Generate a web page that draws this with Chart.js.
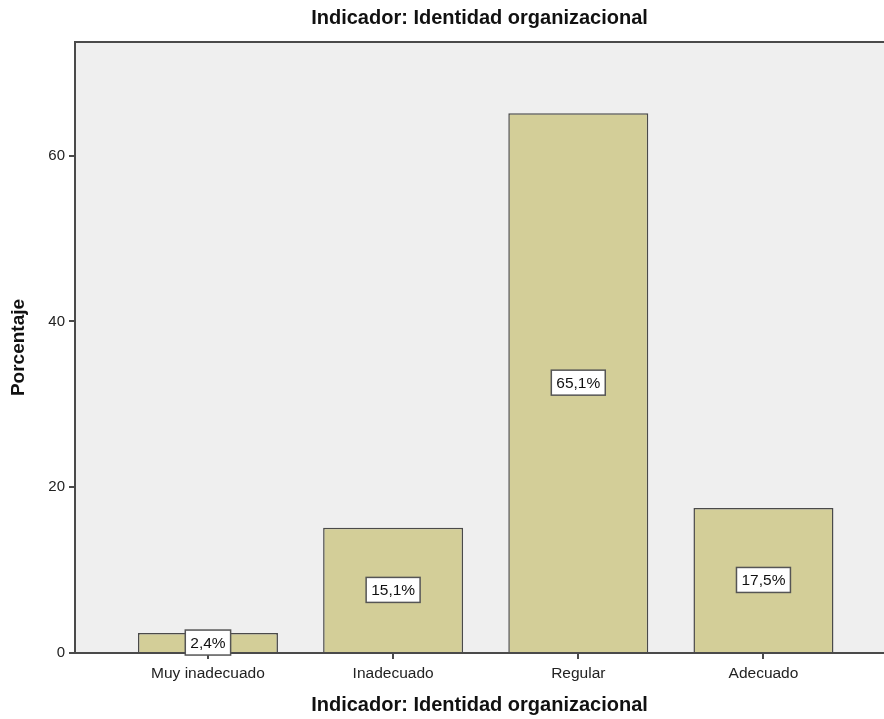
<!DOCTYPE html>
<html><head><meta charset="utf-8">
<script src="https://cdn.jsdelivr.net/npm/chart.js@4/dist/chart.umd.min.js"></script>
<style>html,body{margin:0;padding:0;background:#fff}#wrap{width:884px;height:719px}</style>
</head><body><div id="wrap"><canvas id="c" width="884" height="719"></canvas></div>
<script>
const categories = ['Muy inadecuado', 'Inadecuado', 'Regular', 'Adecuado'];
const percentages = [2.4, 15.1, 65.1, 17.5];
const valueLabels = ['2,4%', '15,1%', '65,1%', '17,5%'];
const yTickValues = [0, 20, 40, 60];
const chartTitle = 'Indicador: Identidad organizacional';
const xAxisTitle = 'Indicador: Identidad organizacional';
const yAxisTitle = 'Porcentaje';

const FONT = "'Liberation Sans', Arial, sans-serif";
const AXIS = '#4a4a4a';

const frame = {
  id: 'frame',
  beforeDraw(chart) {
    const {ctx, chartArea: a} = chart;
    ctx.save();
    ctx.fillStyle = '#efefef';
    ctx.fillRect(a.left, a.top, a.right - a.left, a.bottom - a.top);
    ctx.restore();
  },
  afterDatasetsDraw(chart) {
    const {ctx, chartArea: a} = chart;
    ctx.save();
    ctx.strokeStyle = AXIS;
    ctx.lineWidth = 2;
    ctx.beginPath();
    ctx.moveTo(a.left, a.top);
    ctx.lineTo(a.right, a.top);
    ctx.stroke();
    const meta = chart.getDatasetMeta(0);
    ctx.font = "15.5px " + FONT;
    ctx.textAlign = 'center';
    ctx.textBaseline = 'middle';
    meta.data.forEach((bar, i) => {
      const cx = bar.x, cy = (bar.y + bar.base) / 2;
      const txt = valueLabels[i];
      const w = ctx.measureText(txt).width + 10, h = 25;
      ctx.fillStyle = '#ffffff';
      ctx.fillRect(cx - w / 2, cy - h / 2, w, h);
      ctx.lineWidth = 1.5;
      ctx.strokeStyle = '#555';
      ctx.strokeRect(cx - w / 2, cy - h / 2, w, h);
      ctx.fillStyle = '#111';
      ctx.fillText(txt, cx, cy + 1);
    });
    ctx.restore();
  }
};

new Chart(document.getElementById('c'), {
  type: 'bar',
  data: {
    datasets: [{
      data: percentages.map((v, i) => ({x: i, y: v})),
      backgroundColor: '#d3ce98',
      borderColor: '#4a4a4a',
      borderWidth: 1.5,
      barPercentage: 0.756,
      categoryPercentage: 1
    }]
  },
  options: {
    responsive: false,
    animation: false,
    layout: {padding: {left: 0, right: 0, top: 0, bottom: 0}},
    plugins: {
      legend: {display: false},
      tooltip: {enabled: false},
      title: {
        display: true, text: chartTitle, fullSize: false,
        color: '#111', font: {family: FONT, size: 20, weight: 'bold'},
        padding: {top: 6, bottom: 12}
      }
    },
    scales: {
      x: {
        type: 'linear', min: -0.718, max: 3.651, offset: false,
        afterBuildTicks: s => { s.ticks = categories.map((c, i) => ({value: i})); },
        afterFit: s => { s.height = 66; },
        ticks: {
          callback: v => categories[v],
          color: '#222', font: {family: FONT, size: 15.5}, padding: 5, maxRotation: 0, autoSkip: false
        },
        grid: {display: true, offset: false, drawOnChartArea: false, drawTicks: true, tickLength: 6, color: AXIS, lineWidth: 2},
        border: {display: true, color: AXIS, width: 2},
        title: {
          display: true, text: xAxisTitle, color: '#111',
          font: {family: FONT, size: 20, weight: 'bold'}, padding: {top: 0, bottom: 2}
        }
      },
      y: {
        min: 0, max: 73.7,
        afterBuildTicks: s => { s.ticks = yTickValues.map(v => ({value: v})); },
        afterFit: s => { s.width = 75; },
        ticks: {color: '#222', font: {family: FONT, size: 15}, padding: 4},
        grid: {display: true, drawOnChartArea: false, drawTicks: true, tickLength: 6, color: AXIS, lineWidth: 2},
        border: {display: true, color: AXIS, width: 2},
        title: {
          display: true, text: yAxisTitle, color: '#111',
          font: {family: FONT, size: 19, weight: 'bold'}, padding: {top: 7, bottom: 0}
        }
      }
    }
  },
  plugins: [frame]
});
</script>
</body></html>
